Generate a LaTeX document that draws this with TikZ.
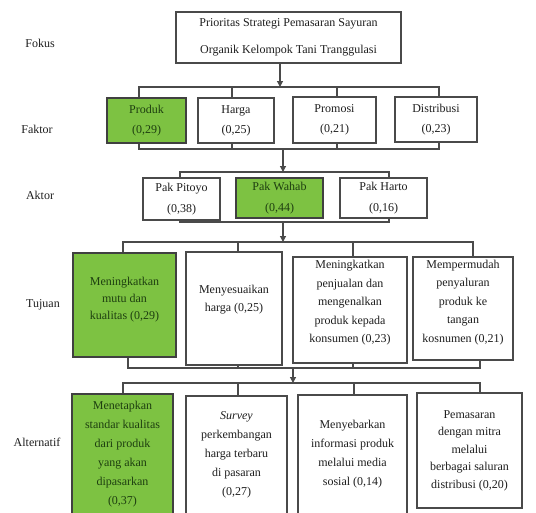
\documentclass[tikz,border=0pt]{standalone}
\usepackage{fontspec}
\setmainfont{Liberation Serif}
\usetikzlibrary{arrows.meta}
\definecolor{linec}{HTML}{4A4A4A}
\definecolor{txt}{HTML}{1E1E1E}
\definecolor{grn}{HTML}{7DC242}
\definecolor{dgrn}{HTML}{1E3F10}
\tikzset{
  box/.style={draw=linec, line width=1.2pt, fill=white, align=center, inner sep=0pt, text=txt},
  gbox/.style={box, fill=grn, text=dgrn, draw=black!75},
  lab/.style={font=\fontsize{12}{14}\selectfont, text=txt},
  bus/.style={draw=linec, line width=1.2pt},
  arr/.style={bus, -{Triangle[width=6pt,length=6pt]}},
  fs/.style={font=\fontsize{12}{#1}\selectfont},
  tlab/.style={align=center, inner sep=0pt, font=\fontsize{12}{18.5}\selectfont}
}
\begin{document}
\begin{tikzpicture}[x=1pt,y=-1pt]
\useasboundingbox (0,0) rectangle (536,512);
\fill[white] (0,0) rectangle (536,512);
\clip (0,0) rectangle (536,512);

% labels
\node[lab] (lfokus) at (40,43) {Fokus};
\node[lab] (lfaktor) at (37,129) {Faktor};
\node[lab] (laktor) at (40,195) {Aktor};
\node[lab] (ltujuan) at (43,305) {Tujuan};
\node[lab] (lalt) at (37,442) {Alternatif};

% Fokus
\node[box, fs=27, minimum width=225pt, minimum height=51pt] (fokus) at (288.5,37.5)
  {Prioritas Strategi Pemasaran Sayuran\\Organik Kelompok Tani Tranggulasi};

% Faktor
\node[gbox, fs=20, minimum width=79pt, minimum height=45pt] (produk) at (146.5,120.5) {Produk\\(0,29)};
\node[box, fs=20, minimum width=76pt, minimum height=45pt] (harga) at (236,120.5) {Harga\\(0,25)};
\node[box, fs=20, minimum width=83pt, minimum height=46pt] (promosi) at (334.5,120) {Promosi\\(0,21)};
\node[box, fs=20, minimum width=82pt, minimum height=45pt] (distribusi) at (436,119.5) {Distribusi\\(0,23)};

% Aktor
\node[box, fs=21, minimum width=77pt, minimum height=42pt] (pitoyo) at (181.5,199) {Pak Pitoyo\\(0,38)};
\node[gbox, fs=21, minimum width=87pt, minimum height=40pt] (wahab) at (279.5,198) {Pak Wahab\\(0,44)};
\node[box, fs=21, minimum width=87pt, minimum height=40pt] (harto) at (383.5,198) {Pak Harto\\(0,16)};

% Tujuan (boxes, text placed at common level)
\node[gbox, minimum width=103pt, minimum height=104pt,
  label={[tlab, text=dgrn, font=\fontsize{12}{17}\selectfont, yshift=5pt]center:Meningkatkan\\mutu dan\\kualitas (0,29)}] (tA) at (124.5,305) {};
\node[box, minimum width=96pt, minimum height=113pt,
  label={[tlab, text=txt, yshift=9pt]center:Menyesuaikan\\harga (0,25)}] (tB) at (234,308.5) {};
\node[box, minimum width=114pt, minimum height=106pt,
  label={[tlab, text=txt, yshift=7pt]center:Meningkatkan\\penjualan dan\\mengenalkan\\produk kepada\\konsumen (0,23)}] (tC) at (350,310) {};
\node[box, minimum width=100pt, minimum height=103pt,
  label={[tlab, text=txt, yshift=6pt]center:Mempermudah\\penyaluran\\produk ke\\tangan\\kosnumen (0,21)}] (tD) at (463,308.5) {};

% Alternatif
\node[gbox, fs=19, minimum width=101pt, minimum height=120pt] (aA) at (122.5,454) {Menetapkan\\standar kualitas\\dari produk\\yang akan\\dipasarkan\\(0,37)};
\node[box, fs=19, minimum width=101pt, minimum height=118pt] (aB) at (236.5,455) {\textit{Survey}\\perkembangan\\harga terbaru\\di pasaran\\(0,27)};
\node[box, fs=19, minimum width=109pt, minimum height=119pt] (aC) at (352.5,454.5) {Menyebarkan\\informasi produk\\melalui media\\sosial (0,14)};
\node[box, fs=17.5, minimum width=105pt, minimum height=115pt] (aD) at (469.5,450.5) {Pemasaran\\dengan mitra\\melalui\\berbagai saluran\\distribusi (0,20)};

% bus coordinates
\coordinate (f1) at (139,87); \coordinate (f2) at (232,87); \coordinate (f3) at (337,87); \coordinate (f4) at (439,87);
\coordinate (fa) at (280,87);
\coordinate (g1) at (139,149); \coordinate (g2) at (232,149); \coordinate (g3) at (337,149); \coordinate (g4) at (439,149);
\coordinate (ga) at (283,172);
\coordinate (k1) at (180,172); \coordinate (k3) at (389,172);
\coordinate (m1) at (180,222); \coordinate (m3) at (389,222);
\coordinate (ma) at (283,242);
\coordinate (t1) at (123,242); \coordinate (t2) at (238,242); \coordinate (t3) at (353,242); \coordinate (t4) at (473,242);
\coordinate (u1) at (128,368); \coordinate (u2) at (238,368); \coordinate (u3) at (353,368); \coordinate (u4) at (480,368);
\coordinate (ua) at (293,383);
\coordinate (v1) at (123,383); \coordinate (v2) at (238,383); \coordinate (v3) at (354,383); \coordinate (v4) at (480,383);

% Fokus -> Faktor
\draw[arr] (fa |- fokus.south) -- (fa);
\draw[bus] (f1 |- produk.north) -- (f1) -- (f4) -- (f4 |- distribusi.north);
\draw[bus] (f2) -- (f2 |- harga.north);
\draw[bus] (f3) -- (f3 |- promosi.north);
% Faktor lower bus
\draw[bus] (g1 |- produk.south) -- (g1) -- (g4) -- (g4 |- distribusi.south);
\draw[bus] (g2) -- (g2 |- harga.south);
\draw[bus] (g3) -- (g3 |- promosi.south);
\draw[arr] (g1 -| ga) -- (ga);

% Aktor
\draw[bus] (k1 |- pitoyo.north) -- (k1) -- (k3) -- (k3 |- harto.north);
\draw[bus] (m1 |- pitoyo.south) -- (m1) -- (m3) -- (m3 |- harto.south);
\draw[arr] (m1 -| ma) -- (ma);

% Tujuan
\draw[bus] (t1 |- tA.north) -- (t1) -- (t4) -- (t4 |- tD.north);
\draw[bus] (t2) -- (t2 |- tB.north);
\draw[bus] (t3) -- (t3 |- tC.north);
\draw[bus] (u1 |- tA.south) -- (u1) -- (u4) -- (u4 |- tD.south);
\draw[bus] (u2) -- (u2 |- tB.south);
\draw[bus] (u3) -- (u3 |- tC.south);
\draw[arr] (u1 -| ua) -- (ua);

% Alternatif
\draw[bus] (v1 |- aA.north) -- (v1) -- (v4) -- (v4 |- aD.north);
\draw[bus] (v2) -- (v2 |- aB.north);
\draw[bus] (v3) -- (v3 |- aC.north);
\end{tikzpicture}
\end{document}
